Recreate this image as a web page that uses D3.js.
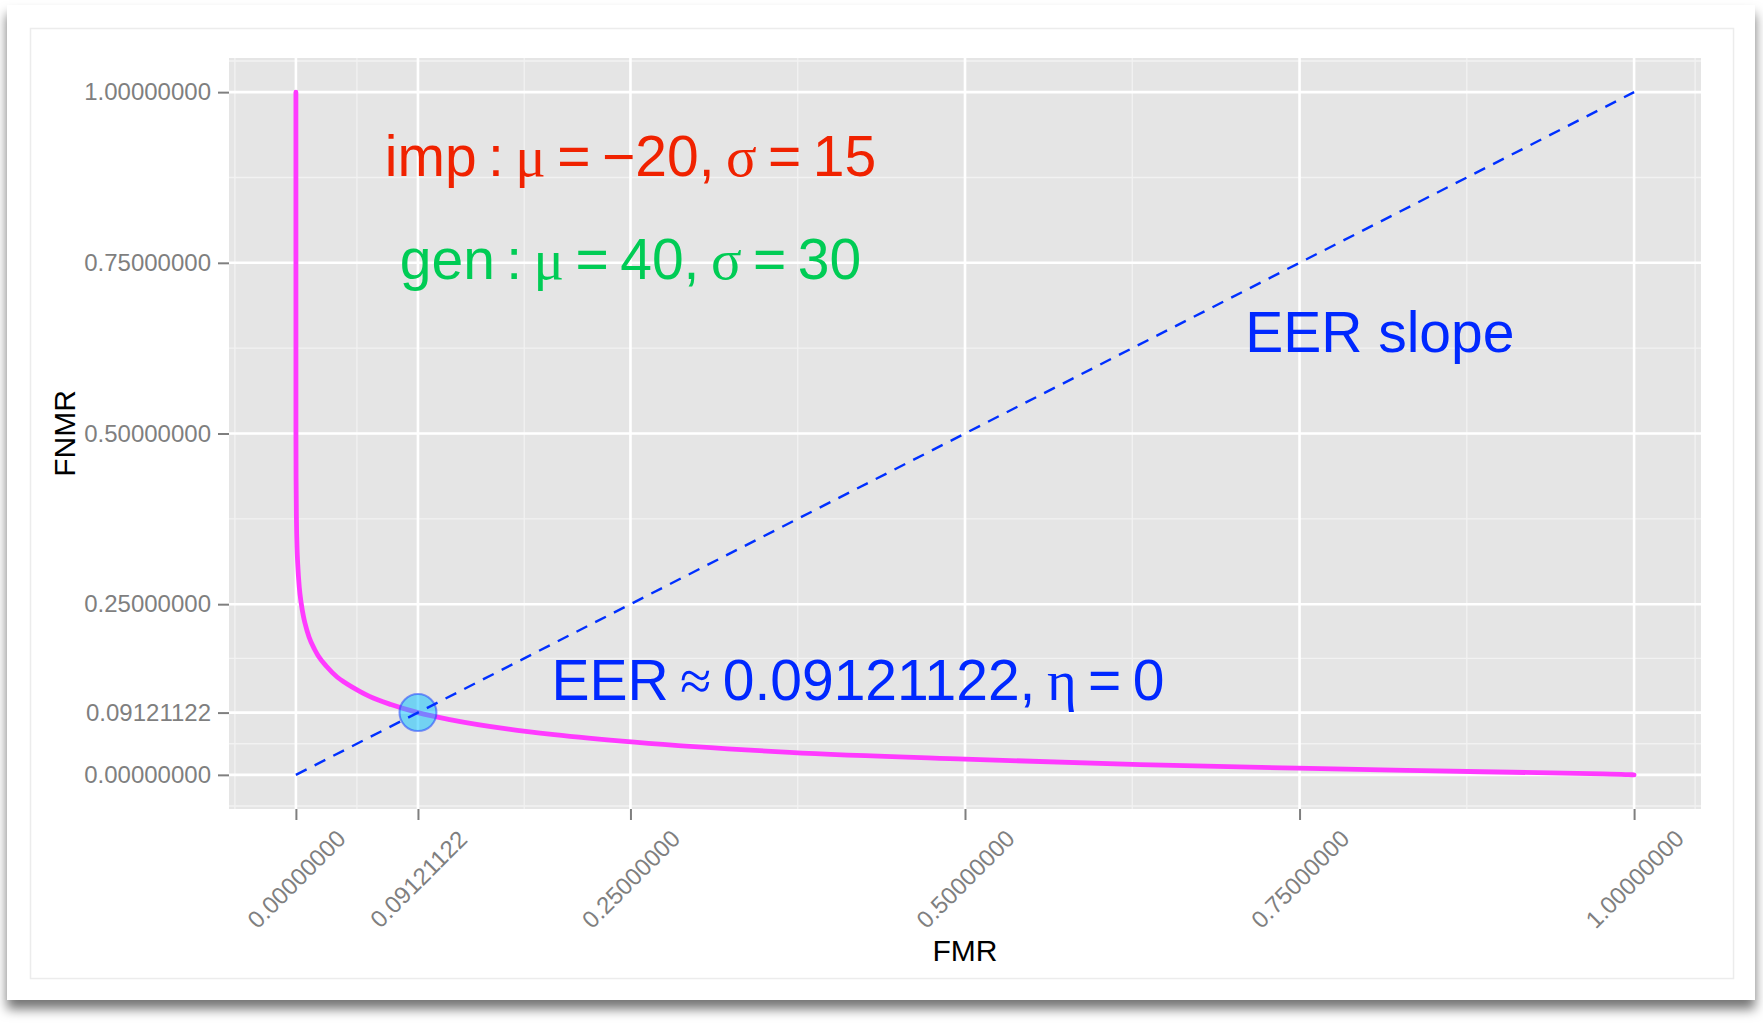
<!DOCTYPE html>
<html>
<head>
<meta charset="utf-8">
<script src="https://cdn.jsdelivr.net/npm/d3@7"></script>
<style>
  html, body { margin: 0; padding: 0; background: #ffffff; }
  svg { display: block; }
</style>
</head>
<body>
<svg id="chart" width="1763" height="1024"></svg>
<script>
// ---- data -------------------------------------------------------------
const eer = 0.09121122;
const axisBreaks = [0, 0.09121122, 0.25, 0.5, 0.75, 1];

// DET curve: false match rate vs false non-match rate
const fmrValues = [0, 0.00003, 0.00012, 0.00043, 0.00086, 0.00135, 0.00256, 0.00383,
  0.00565, 0.0068, 0.0098, 0.0139, 0.0165, 0.0228, 0.031, 0.036, 0.048, 0.055,
  0.071, 0.09121122, 0.115, 0.159, 0.193, 0.253, 0.369, 0.5, 0.631, 0.748,
  0.841, 0.909, 0.977, 0.996, 1.0];
const fnmrValues = [1.0, 0.5, 0.434, 0.369, 0.332, 0.309, 0.274, 0.253,
  0.232, 0.222, 0.202, 0.184, 0.175, 0.159, 0.143, 0.136, 0.122, 0.115,
  0.103, 0.09121122, 0.081, 0.067, 0.059, 0.048, 0.033, 0.023, 0.015, 0.0098,
  0.0062, 0.0038, 0.0014, 0.0004, 0.0];

// equal-error diagonal
const slopeX = [0, 1];
const slopeY = [0, 1];

// annotation labels: [text, isGreek]; \u2009 is a thin space
const impLabel = [["imp", 0], ["\u2009:\u2009", 0], ["μ", 1], ["\u2009=\u2009", 0], ["−20,\u2009", 0], ["σ", 1], ["\u2009=\u2009", 0], ["15", 0]];
const genLabel = [["gen", 0], ["\u2009:\u2009", 0], ["μ", 1], ["\u2009=\u2009", 0], ["40,\u2009", 0], ["σ", 1], ["\u2009=\u2009", 0], ["30", 0]];
const slopeLabel = [["EER slope", 0]];
const eerLabel = [["EER\u2009", 0], ["≈", 1], ["\u20090.09121122,\u2009", 0], ["η", 1], ["\u2009=\u2009", 0], ["0", 0]];
const labelX = [0.25, 0.25, 0.81, 0.42];
const labelY = [0.907, 0.757, 0.65, 0.14];
const labelColors = ["#f02200", "#00cc55", "#0028ff", "#0028ff"];

// ---- layout -----------------------------------------------------------
const svg = d3.select("#chart");
const sans = "'Liberation Sans', Arial, Helvetica, sans-serif";
const serif = "'Liberation Serif', 'DejaVu Serif', serif";

const panel = { left: 229, right: 1701, top: 58, bottom: 809 };
const x = d3.scaleLinear().domain([-0.05, 1.05]).range([panel.left, panel.right]);
const y = d3.scaleLinear().domain([-0.05, 1.05]).range([panel.bottom, panel.top]);

// minor breaks halfway between major breaks, extended by the first step
function minorBreaks(b, lim) {
  const step = b[1] - b[0];
  const ext = [b[0] - step, ...b, b[b.length - 1] + step];
  const out = [];
  for (let i = 0; i < ext.length - 1; i++) {
    const m = (ext[i] + ext[i + 1]) / 2;
    if (m >= lim[0] && m <= lim[1]) out.push(m);
  }
  return out;
}
const minor = minorBreaks(axisBreaks, [-0.05, 1.05]);

// ---- frame with drop shadow ------------------------------------------
const defs = svg.append("defs");
const f = defs.append("filter").attr("id", "shadow")
  .attr("x", "-5%").attr("y", "-5%").attr("width", "110%").attr("height", "115%");
f.append("feDropShadow").attr("dx", 0).attr("dy", 9).attr("stdDeviation", 6)
  .attr("flood-color", "#000").attr("flood-opacity", 0.55);

svg.append("rect").attr("x", 7).attr("y", 5).attr("width", 1748).attr("height", 995)
  .attr("fill", "#ffffff").attr("filter", "url(#shadow)");
svg.append("rect").attr("x", 30.5).attr("y", 28.5).attr("width", 1703).attr("height", 950)
  .attr("fill", "#ffffff").attr("stroke", "#ececec").attr("stroke-width", 1.5);

// ---- panel ------------------------------------------------------------
svg.append("rect")
  .attr("x", panel.left).attr("y", panel.top)
  .attr("width", panel.right - panel.left).attr("height", panel.bottom - panel.top)
  .attr("fill", "#e5e5e5");

const grid = svg.append("g");
grid.selectAll(".vmin").data(minor).join("line")
  .attr("x1", d => x(d)).attr("x2", d => x(d)).attr("y1", panel.top).attr("y2", panel.bottom)
  .attr("stroke", "#f2f2f2").attr("stroke-width", 1.3);
grid.selectAll(".hmin").data(minor).join("line")
  .attr("y1", d => y(d)).attr("y2", d => y(d)).attr("x1", panel.left).attr("x2", panel.right)
  .attr("stroke", "#f2f2f2").attr("stroke-width", 1.3);
grid.selectAll(".vmaj").data(axisBreaks).join("line")
  .attr("x1", d => x(d)).attr("x2", d => x(d)).attr("y1", panel.top).attr("y2", panel.bottom)
  .attr("stroke", "#ffffff").attr("stroke-width", 2.6);
grid.selectAll(".hmaj").data(axisBreaks).join("line")
  .attr("y1", d => y(d)).attr("y2", d => y(d)).attr("x1", panel.left).attr("x2", panel.right)
  .attr("stroke", "#ffffff").attr("stroke-width", 2.6);

// ---- marks ------------------------------------------------------------
const curve = fmrValues.map((v, i) => [v, fnmrValues[i]]);
svg.append("path")
  .datum(curve)
  .attr("d", d3.line().x(d => x(d[0])).y(d => y(d[1])).curve(d3.curveMonotoneX))
  .attr("fill", "none").attr("stroke", "#ff3aff").attr("stroke-width", 4.8)
  .attr("stroke-linecap", "round").attr("stroke-linejoin", "round");

svg.append("circle")
  .attr("cx", x(eer)).attr("cy", y(eer)).attr("r", 18.5)
  .attr("fill", "#00bfff").attr("fill-opacity", 0.5)
  .attr("stroke", "#2244ff").attr("stroke-opacity", 0.55).attr("stroke-width", 2);

svg.append("line")
  .attr("x1", x(slopeX[0])).attr("y1", y(slopeY[0]))
  .attr("x2", x(slopeX[1])).attr("y2", y(slopeY[1]))
  .attr("stroke", "#0030ff").attr("stroke-width", 2.4)
  .attr("stroke-dasharray", "12,9");

// ---- annotations ------------------------------------------------------
[impLabel, genLabel, slopeLabel, eerLabel].forEach((parts, i) => {
  const t = svg.append("text")
    .attr("x", x(labelX[i])).attr("y", y(labelY[i]))
    .attr("dy", "0.36em")
    .attr("text-anchor", "middle")
    .attr("font-family", sans).attr("font-size", 57)
    .attr("fill", labelColors[i])
    .style("white-space", "pre");
  parts.forEach(p => {
    t.append("tspan").text(p[0]).attr("font-family", p[1] ? serif : sans);
  });
});

// ---- axes -------------------------------------------------------------
const fmt = d3.format(".8f");
const yAxis = svg.append("g").attr("transform", `translate(${panel.left},0)`)
  .call(d3.axisLeft(y).tickValues(axisBreaks).tickFormat(fmt).tickSize(11).tickPadding(7));
const xAxis = svg.append("g").attr("transform", `translate(0,${panel.bottom})`)
  .call(d3.axisBottom(x).tickValues(axisBreaks).tickFormat(fmt).tickSize(11));

[yAxis, xAxis].forEach(g => {
  g.select(".domain").remove();
  g.selectAll(".tick line").attr("stroke", "#7f7f7f").attr("stroke-width", 2);
  g.selectAll(".tick text").attr("fill", "#7f7f7f")
    .attr("font-family", sans).attr("font-size", 24);
});
xAxis.selectAll(".tick text")
  .attr("y", 0).attr("dy", "0.35em").attr("text-anchor", "middle")
  .attr("transform", "translate(0,70) rotate(-45)");

svg.append("text")
  .attr("x", (panel.left + panel.right) / 2).attr("y", 950).attr("dy", "0.36em")
  .attr("text-anchor", "middle").attr("font-family", sans).attr("font-size", 30)
  .attr("fill", "#000").text("FMR");
svg.append("text")
  .attr("transform", `translate(64,${(panel.top + panel.bottom) / 2}) rotate(-90)`)
  .attr("dy", "0.36em")
  .attr("text-anchor", "middle").attr("font-family", sans).attr("font-size", 30)
  .attr("fill", "#000").text("FNMR");
</script>
</body>
</html>
